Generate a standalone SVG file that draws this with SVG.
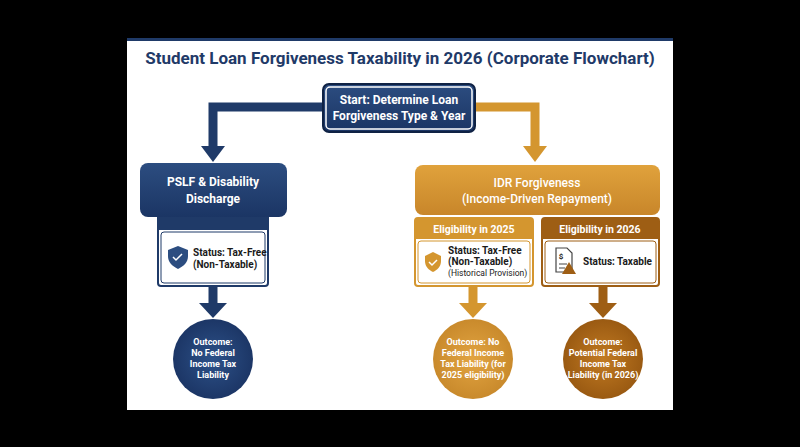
<svg xmlns="http://www.w3.org/2000/svg" width="800" height="447" viewBox="0 0 800 447">
<defs>
<style>
text{font-family:Roboto,"Liberation Sans",sans-serif;text-anchor:middle;font-weight:bold}
.w{fill:#fff}.d{fill:#1a1a1a}.s{text-anchor:start}.n{font-weight:normal}.m{font-weight:500}
</style>
<linearGradient id="gb" x1="0" y1="0" x2="0" y2="1"><stop offset="0" stop-color="#2c4d80"/><stop offset="1" stop-color="#1b3564"/></linearGradient>
<linearGradient id="go" x1="0" y1="0" x2="0" y2="1"><stop offset="0" stop-color="#e0a23c"/><stop offset="1" stop-color="#c8862a"/></linearGradient>
<radialGradient id="cb"><stop offset="0" stop-color="#2d5188"/><stop offset="1" stop-color="#1c3666"/></radialGradient>
<radialGradient id="co"><stop offset="0" stop-color="#e2a441"/><stop offset="1" stop-color="#c98a2c"/></radialGradient>
<radialGradient id="cr"><stop offset="0" stop-color="#c17a22"/><stop offset="1" stop-color="#9a5a12"/></radialGradient>
</defs>
<rect width="800" height="447" fill="#000"/>
<rect x="127" y="38" width="546" height="372" fill="#fff"/>
<rect x="127" y="38" width="546" height="3" fill="#1f3a68"/>
<text x="400" y="64" font-size="17" fill="#1f3a68">Student Loan Forgiveness Taxability in 2026 (Corporate Flowchart)</text>
<g id="connectors" stroke-linejoin="miter">
<path d="M323 107H213V148" fill="none" stroke="#1f3a68" stroke-width="9"/>
<path d="M201 146H225L213 162Z" fill="#1f3a68"/>
<path d="M475 107H535V148" fill="none" stroke="#d4962f" stroke-width="9"/>
<path d="M523 146H547L535 162Z" fill="#d4962f"/>
<path d="M213 285V305" stroke="#1f3a68" stroke-width="9"/>
<path d="M199 303H227L213 318Z" fill="#1f3a68"/>
<path d="M473 285V305" stroke="#d4962f" stroke-width="9"/>
<path d="M459 303H487L473 318Z" fill="#d4962f"/>
<path d="M603 285V305" stroke="#9e5e14" stroke-width="9"/>
<path d="M589 303H617L603 318Z" fill="#9e5e14"/>
</g>
<g id="start">
<rect x="323" y="84" width="152" height="48" rx="6" fill="url(#gb)" stroke="#0f2244" stroke-width="2"/>
<rect x="326" y="87" width="146" height="42" rx="4" fill="none" stroke="#fff" stroke-width="1.5"/>
<text x="399" y="104" font-size="12" class="w">Start: Determine Loan</text>
<text x="399" y="120" font-size="12" class="w">Forgiveness Type &amp; Year</text>
</g>
<g id="pslf">
<rect x="158" y="214" width="110" height="72" rx="3" fill="#fff" stroke="#1f3a68" stroke-width="2"/>
<rect x="158" y="214" width="110" height="16" fill="#1f3a68"/>
<rect x="161" y="232" width="104" height="51" rx="3" fill="none" stroke="#1f3a68" stroke-width="1"/>
<rect x="140" y="163" width="147" height="54" rx="8" fill="url(#gb)"/>
<text x="213" y="186" font-size="12" class="w">PSLF &amp; Disability</text>
<text x="213" y="203" font-size="12" class="w">Discharge</text>
<path d="M168 250l10-4 10 4v6c0 6-4 10-10 13-6-3-10-7-10-13z" fill="#2c4d80"/>
<path d="M173 257l3 3 6-6" fill="none" stroke="#fff" stroke-width="1.5"/>
<text x="193" y="256" font-size="10" class="d s">Status: Tax-Free</text>
<text x="193" y="268" font-size="10" class="d s">(Non-Taxable)</text>
</g>
<g id="idr">
<rect x="415" y="165" width="245" height="50" rx="8" fill="url(#go)"/>
<text x="537" y="187" font-size="12" class="w m">IDR Forgiveness</text>
<text x="537" y="203" font-size="12" class="w m">(Income-Driven Repayment)</text>
</g>
<g id="elig2025">
<rect x="415" y="218" width="118" height="68" rx="3" fill="#fff" stroke="#d4962f" stroke-width="2"/>
<rect x="415" y="218" width="118" height="21" fill="#d4962f"/>
<text x="474" y="233" font-size="10.5" class="w">Eligibility in 2025</text>
<rect x="418" y="241" width="112" height="42" rx="3" fill="none" stroke="#d4962f" stroke-width="1"/>
<path d="M425 256l8-4 8 4v5c0 6-4 9-8 11-4-2-8-5-8-11z" fill="#d4962f"/>
<path d="M429 262l3 3 5-5" fill="none" stroke="#fff" stroke-width="1.5"/>
<text x="448" y="254" font-size="10" class="d s">Status: Tax-Free</text>
<text x="448" y="265" font-size="10" class="d s">(Non-Taxable)</text>
<text x="448" y="276" font-size="8.5" class="d s n">(Historical Provision)</text>
</g>
<g id="elig2026">
<rect x="542" y="218" width="117" height="68" rx="3" fill="#fff" stroke="#9e5e14" stroke-width="2"/>
<rect x="542" y="218" width="117" height="21" fill="#9e5e14"/>
<text x="600" y="233" font-size="10.5" class="w">Eligibility in 2026</text>
<rect x="545" y="241" width="111" height="42" rx="3" fill="none" stroke="#9e5e14" stroke-width="1"/>
<path d="M556 248h11l5 5v19h-16z" fill="#fff" stroke="#444" stroke-width="1.2"/>
<text x="561" y="259" font-size="8" class="d">$</text>
<path d="M559 264h8M559 268h6" stroke="#444" stroke-width="1"/>
<path d="M569 262l7 12h-14z" fill="#9e5e14"/>
<text x="583" y="265" font-size="10" class="d s">Status: Taxable</text>
</g>
<g id="out1">
<circle cx="213" cy="359" r="40" fill="url(#cb)"/>
<text font-size="9" class="w"><tspan x="213" y="345">Outcome:</tspan><tspan x="213" y="356">No Federal</tspan><tspan x="213" y="367">Income Tax</tspan><tspan x="213" y="378">Liability</tspan></text>
</g>
<g id="out2">
<circle cx="473" cy="359" r="40" fill="url(#co)"/>
<text font-size="9" class="w"><tspan x="473" y="345">Outcome: No</tspan><tspan x="473" y="356">Federal Income</tspan><tspan x="473" y="367">Tax Liability (for</tspan><tspan x="473" y="378">2025 eligibility)</tspan></text>
</g>
<g id="out3">
<circle cx="603" cy="359" r="40" fill="url(#cr)"/>
<text font-size="9" class="w"><tspan x="603" y="345">Outcome:</tspan><tspan x="603" y="356">Potential Federal</tspan><tspan x="603" y="367">Income Tax</tspan><tspan x="603" y="378">Liability (in 2026)</tspan></text>
</g>
</svg>
